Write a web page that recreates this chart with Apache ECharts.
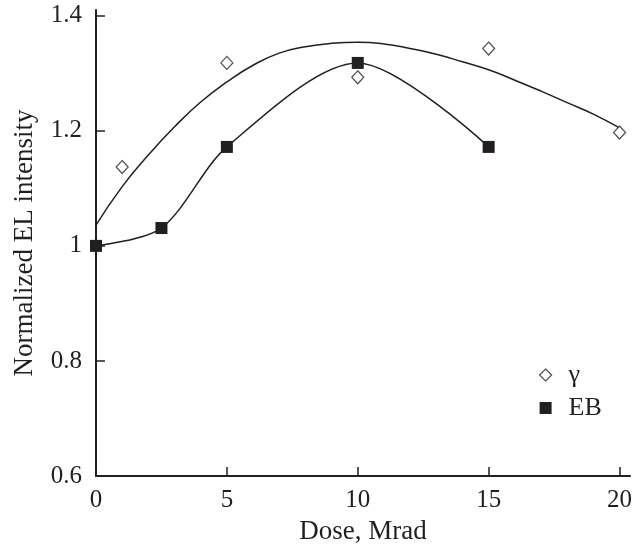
<!DOCTYPE html>
<html>
<head>
<meta charset="utf-8">
<script src="https://cdn.jsdelivr.net/npm/echarts@6/dist/echarts.min.js"></script>
<style>html,body{margin:0;padding:0;background:#fff}#c{width:640px;height:546px}</style>
</head>
<body>
<div id="c"></div>
<script>
// Data
const gammaX = [1, 5, 10, 15, 20];
const gammaY = [1.137, 1.318, 1.293, 1.343, 1.197];
const ebX = [0, 2.5, 5, 10, 15];
const ebY = [1.0, 1.031, 1.172, 1.318, 1.172];
// Fitted curve through the gamma points
const gammaFitX = [0, 1, 2, 3, 4, 5, 6, 7, 8, 9, 10, 11, 12, 13, 14, 15, 16, 17, 18, 19, 20];
const gammaFitY = [1.036, 1.103, 1.158, 1.207, 1.25, 1.285, 1.314, 1.335, 1.346, 1.352, 1.354, 1.351, 1.343, 1.333, 1.32, 1.306, 1.288, 1.269, 1.249, 1.229, 1.205];
const xTicks = [0, 5, 10, 15, 20];
const yTicks = [0.6, 0.8, 1.0, 1.2, 1.4];

const ink = '#231f20';
const font = '"Liberation Serif", "DejaVu Serif", serif';
const zip = (a, b) => a.map((v, i) => [v, b[i]]);

const chart = echarts.init(document.getElementById('c'), null, {renderer: 'canvas'});
chart.setOption({
  animation: false,
  backgroundColor: '#fff',
  grid: {left: 96, right: 10, top: 10, bottom: 70, containLabel: false, outerBoundsMode: 'none'},
  xAxis: {
    type: 'value', min: 0, max: 20.4, interval: 5,
    name: 'Dose, Mrad', nameLocation: 'middle', nameGap: 42,
    nameTextStyle: {fontFamily: font, fontSize: 27, color: ink},
    axisLine: {show: true, lineStyle: {color: ink, width: 2}},
    axisTick: {show: true, inside: true, length: 9, customValues: xTicks, lineStyle: {color: ink, width: 1.5}},
    axisLabel: {customValues: xTicks, fontFamily: font, fontSize: 25, color: ink, margin: 12,
      formatter: v => String(v)},
    splitLine: {show: false}
  },
  yAxis: {
    type: 'value', min: 0.6, max: 1.41, interval: 0.2,
    name: 'Normalized EL intensity', nameLocation: 'middle', nameGap: 58,
    nameTextStyle: {fontFamily: font, fontSize: 27, color: ink},
    axisLine: {show: true, lineStyle: {color: ink, width: 2}},
    axisTick: {show: true, inside: true, length: 9, customValues: yTicks, lineStyle: {color: ink, width: 1.5}},
    axisLabel: {customValues: yTicks, fontFamily: font, fontSize: 25, color: ink, margin: 14,
      formatter: v => (Math.abs(v - 1) < 1e-9 ? '1' : v.toFixed(1))},
    splitLine: {show: false}
  },
  legend: {
    orient: 'vertical', left: 534, top: 357,
    itemWidth: 12, itemHeight: 12, itemGap: 7,
    textStyle: {fontFamily: font, fontSize: 26, color: ink, lineHeight: 25, padding: [0, 0, 0, 12]},
    data: [
      {name: 'γ', icon: 'diamond', itemStyle: {color: '#fff', borderColor: ink, borderWidth: 1.2}},
      {name: 'EB', icon: 'rect', itemStyle: {color: ink, borderWidth: 0}}
    ]
  },
  series: [
    {
      name: 'γ fit', type: 'line', data: zip(gammaFitX, gammaFitY), smooth: true,
      showSymbol: false, symbol: 'none', silent: true,
      lineStyle: {color: ink, width: 1.5}, z: 2
    },
    {
      name: 'EB', type: 'line', data: zip(ebX, ebY), smooth: 0.3,
      symbol: 'rect', symbolSize: 12, showSymbol: true,
      itemStyle: {color: ink}, lineStyle: {color: ink, width: 1.5}, z: 3
    },
    {
      name: 'γ', type: 'scatter', data: zip(gammaX, gammaY),
      symbol: 'diamond', symbolSize: [12, 13],
      itemStyle: {color: '#fff', borderColor: ink, borderWidth: 1.2}, z: 4
    }
  ]
});
</script>
</body>
</html>
